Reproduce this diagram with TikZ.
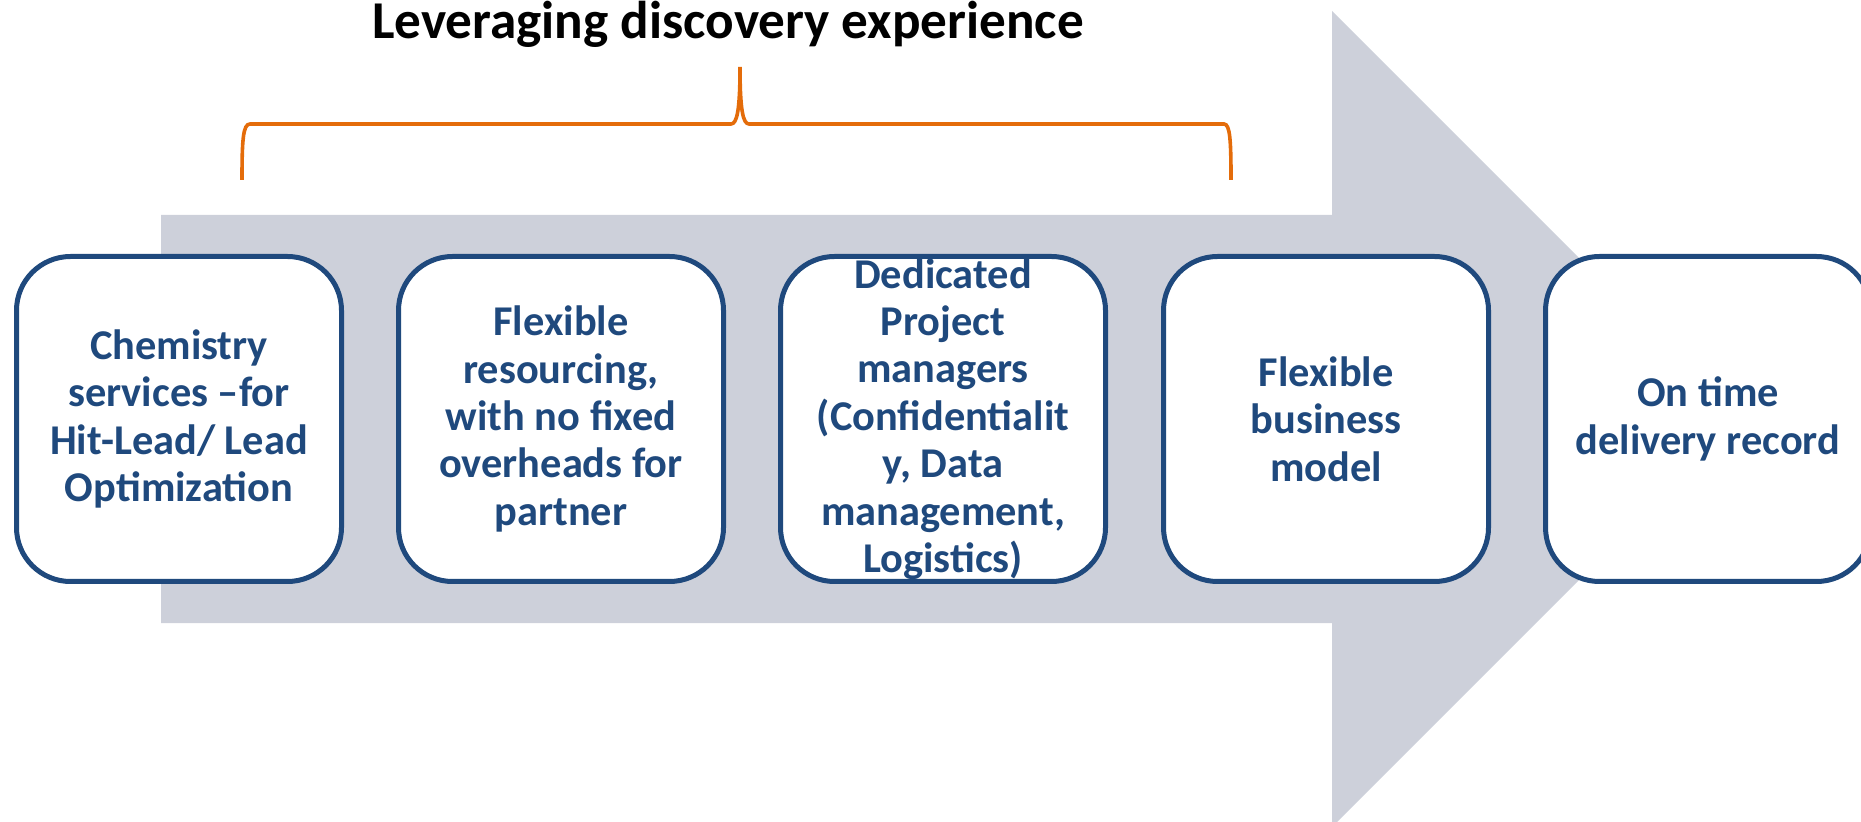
\documentclass[tikz,border=0pt]{standalone}
\usepackage{fontspec}
\setmainfont{Carlito}
\definecolor{navy}{RGB}{31,73,125}
\definecolor{arrowgray}{RGB}{205,208,218}
\definecolor{braceorange}{RGB}{228,108,10}
\begin{document}
\begin{tikzpicture}[x=0.5pt,y=-0.5pt,
  stepbox/.style={draw=navy,line width=2.5pt,fill=white,rounded corners=27pt,
    minimum width=162.5pt,minimum height=162.5pt,inner sep=0pt},
  steptext/.style={text=navy,align=center,inner sep=0pt,
    font=\bfseries\fontsize{21.2pt}{23.7pt}\selectfont},
  title/.style={font=\bfseries\fontsize{26.6pt}{30pt}\selectfont,text=black,inner sep=0pt},
  bracepath/.style={draw=braceorange,line width=1.8pt}]
\useasboundingbox (0,0) rectangle (1861,822);
\begin{scope}
\clip (0,0) rectangle (1861,822);
\fill[arrowgray] (161,215) -- (1332,215) -- (1332,11) -- (1740,419) -- (1332,827) -- (1332,623) -- (161,623) -- cycle;
\end{scope}
\node[title,anchor=base] (title) at (728,38.5) {Leveraging discovery experience};
\draw[bracepath] (242,180) .. controls (242,140) and (243,124) .. (250,124) -- (731,124)
  .. controls (737,124) and (740,110) .. (740,67)
  .. controls (740,110) and (743,124) .. (749,124) -- (1224,124)
  .. controls (1230,124) and (1231,140) .. (1231,180);
\node[stepbox] (b1) at (179,419) {};
\node[stepbox] (b2) at (561,419) {};
\node[stepbox] (b3) at (943,419) {};
\node[stepbox] (b4) at (1326,419) {};
\node[stepbox] (b5) at (1708,419) {};
\node[steptext] (t1) at (b1.center) {Chemistry\\services –for\\Hit-Lead/ Lead\\Optimization};
\node[steptext] (t2) at (b2.center) {Flexible\\resourcing,\\with no fixed\\overheads for\\partner};
\node[steptext] (t3) at (b3.center) {Dedicated\\Project\\managers\\(Confidentialit\\y, Data\\management,\\Logistics)};
\node[steptext] (t4) at (b4.center) {Flexible\\business\\model};
\node[steptext] (t5) at (b5.center) {On time\\delivery record};
\end{tikzpicture}
\end{document}
